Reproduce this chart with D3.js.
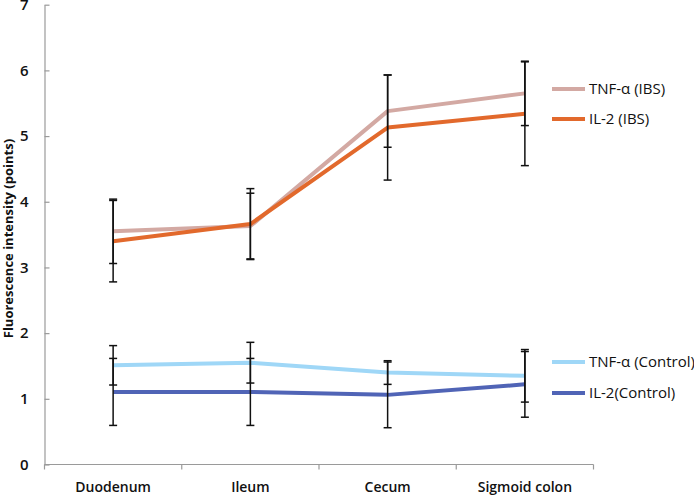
<!DOCTYPE html>
<html><head><meta charset="utf-8">
<script src="https://cdn.jsdelivr.net/npm/d3@7"></script>
<style>
html,body{margin:0;padding:0;background:#fff;}
text{font-family:"Open Sans","Liberation Sans",sans-serif;fill:#111;}
</style></head>
<body><svg id="c" width="694" height="495"></svg>
<script>
const categories = ["Duodenum", "Ileum", "Cecum", "Sigmoid colon"];
const yTicks = [0, 1, 2, 3, 4, 5, 6, 7];
const seriesNames = ["TNF-α (IBS)", "IL-2 (IBS)", "TNF-α (Control)", "IL-2(Control)"];
const seriesColors = ["#d3a9a3", "#e2692c", "#9fd7f7", "#5064b6"];
const tnfIBS = [3.55, 3.63, 5.38, 5.65];
const tnfIBSErr = [0.49, 0.5, 0.55, 0.49];
const il2IBS = [3.40, 3.66, 5.13, 5.34];
const il2IBSErr = [0.62, 0.54, 0.80, 0.79];
const tnfCtrl = [1.51, 1.55, 1.40, 1.35];
const tnfCtrlErr = [0.30, 0.31, 0.18, 0.40];
const il2Ctrl = [1.105, 1.105, 1.06, 1.22];
const il2CtrlErr = [0.51, 0.51, 0.50, 0.50];
const yTitle = "Fluorescence intensity (points)";

(function () {
const series = [
  {name: seriesNames[0], color: seriesColors[0], values: tnfIBS, err: tnfIBSErr},
  {name: seriesNames[1], color: seriesColors[1], values: il2IBS, err: il2IBSErr},
  {name: seriesNames[2], color: seriesColors[2], values: tnfCtrl, err: tnfCtrlErr},
  {name: seriesNames[3], color: seriesColors[3], values: il2Ctrl, err: il2CtrlErr}
];

const svg = d3.select("#c");
const mLeft = 44.5, mRight = 593.5, mTop = 4.7, mBottom = 464.5;
const x = d3.scaleBand().domain(categories).range([mLeft, mRight]);
const y = d3.scaleLinear().domain([0, 7]).range([mBottom, mTop]);
const cx = c => x(c) + x.bandwidth() / 2;

// y axis
const yAxis = svg.append("g").attr("transform", `translate(${mLeft},0)`)
  .call(d3.axisLeft(y).tickValues(yTicks).tickFormat(d3.format("d"))
    .tickSizeInner(-5).tickSizeOuter(0).tickPadding(16));
yAxis.select(".domain").attr("stroke", "#9a9a9a").attr("stroke-width", 1.2);
yAxis.selectAll(".tick line").attr("stroke", "#9a9a9a").attr("stroke-width", 1.2);
yAxis.selectAll("text").style("font-size", "15px").style("font-weight", "600")
  .attr("fill", "#111");

// x axis with boundary ticks
const xAxisG = svg.append("g");
xAxisG.append("line").attr("x1", mLeft).attr("x2", mRight).attr("y1", mBottom).attr("y2", mBottom)
  .attr("stroke", "#9a9a9a").attr("stroke-width", 1.2);
const bounds = categories.map(c => x(c)).concat([x(categories[categories.length-1]) + x.bandwidth()]);
xAxisG.selectAll("line.b").data(bounds).join("line").attr("class", "b")
  .attr("x1", d => d).attr("x2", d => d).attr("y1", mBottom).attr("y2", mBottom + 5)
  .attr("stroke", "#9a9a9a").attr("stroke-width", 1.2);
xAxisG.selectAll("text").data(categories).join("text")
  .attr("x", d => cx(d)).attr("y", 492).attr("text-anchor", "middle")
  .style("font-size", "14px").style("font-weight", "600").text(d => d);

// y title
svg.append("text").attr("transform", `translate(13,${(mTop+mBottom)/2 + 4}) rotate(-90)`)
  .attr("text-anchor", "middle").style("font-size", "13px").style("font-weight", "700")
  .text(yTitle);

// lines
const line = d3.line().x((d, i) => cx(categories[i])).y(d => y(d));
series.forEach(s => {
  svg.append("path").datum(s.values).attr("d", line).attr("fill", "none")
    .attr("stroke", s.color).attr("stroke-width", 4).attr("stroke-linejoin", "round");
});

// error bars
series.forEach(s => {
  const g = svg.append("g").attr("stroke", "#111").attr("stroke-width", 1.5);
  s.values.forEach((v, i) => {
    const px = cx(categories[i]);
    const hi = y(v + s.err[i]), lo = y(v - s.err[i]);
    g.append("line").attr("x1", px).attr("x2", px).attr("y1", hi).attr("y2", lo);
    g.append("line").attr("x1", px - 4).attr("x2", px + 4).attr("y1", hi).attr("y2", hi);
    g.append("line").attr("x1", px - 4).attr("x2", px + 4).attr("y1", lo).attr("y2", lo);
  });
});

// legend
const legendY = [89, 119, 362, 393];
series.forEach((s, i) => {
  svg.append("line").attr("x1", 552).attr("x2", 585).attr("y1", legendY[i]).attr("y2", legendY[i])
    .attr("stroke", s.color).attr("stroke-width", 4);
  svg.append("text").attr("x", 589).attr("y", legendY[i]).attr("dy", "0.35em")
    .style("font-size", "15px").text(s.name);
});
})();
</script></body></html>
